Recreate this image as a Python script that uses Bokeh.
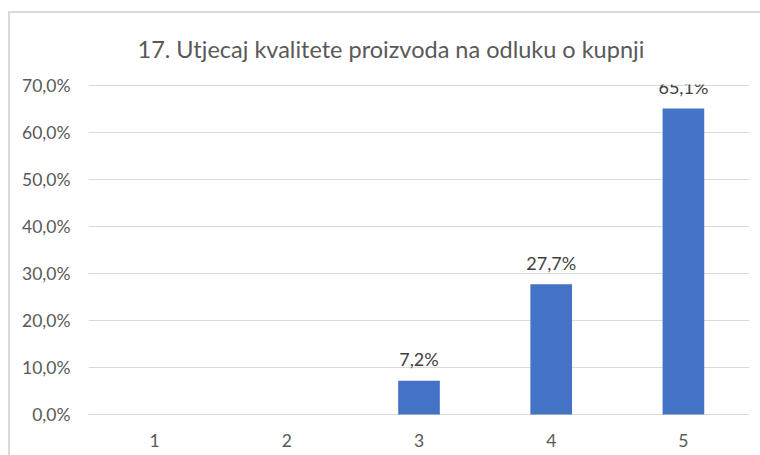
from bokeh.plotting import figure
from bokeh.models import ColumnDataSource, LabelSet, Title, Range1d, CustomJSTickFormatter, FixedTicker
from bokeh.core.properties import value
from bokeh.embed import file_html
from bokeh.resources import INLINE

categories = ["1", "2", "3", "4", "5"]
values = [0.0, 0.0, 0.072, 0.277, 0.651]
value_labels = ["", "", "7,2%", "27,7%", "65,1%"]
y_ticks = [0.0, 0.1, 0.2, 0.3, 0.4, 0.5, 0.6, 0.7]
title_text = "17. Utjecaj kvalitete proizvoda na odluku o kupnji"

FONT = "Lato"
GRAY = "#595959"

src = ColumnDataSource(dict(cat=categories, val=values, lab=value_labels))

p = figure(
    x_range=categories,
    y_range=Range1d(-0.00213, 0.70213),
    frame_width=661, frame_height=331,
    min_border_left=78, min_border_right=11,
    min_border_top=71, min_border_bottom=40,
    output_backend="svg", toolbar_location=None,
    outline_line_color=None, outline_line_alpha=0,
    border_fill_color="white", background_fill_color="white",
)
p.styles = {"margin-left": "8px", "margin-top": "11px",
            "border-left": "2px solid #D9D9D9", "border-top": "2px solid #D9D9D9",
            "border-right": "none", "border-bottom": "none",
            "width": "750px", "overflow": "hidden", "box-sizing": "content-box"}

t = Title(text=title_text, align="left", offset=49, vertical_align="top",
          text_font=FONT, text_font_size="23.5px",
          text_color=GRAY, text_font_style="normal", standoff=40)
p.add_layout(t, "above")

p.vbar(x="cat", top="val", width=0.315, source=src, fill_color="#4472C4", line_color=None)

labels = LabelSet(x="cat", y="val", text="lab", source=src, text_align="center",
                  text_baseline="alphabetic", y_offset=14.5, text_font=value(FONT),
                  text_font_size=value("18px"), text_color=value("#404040"))
p.add_layout(labels)

p.yaxis.ticker = FixedTicker(ticks=y_ticks)
p.yaxis.formatter = CustomJSTickFormatter(code="return (tick*100).toFixed(1).replace('.', ',') + '%';")
for ax in (p.xaxis, p.yaxis):
    ax.axis_line_color = None
    ax.major_tick_line_color = None
    ax.minor_tick_line_color = None
    ax.major_tick_out = 0
    ax.major_tick_in = 0
    ax.major_label_text_font = FONT
    ax.major_label_text_font_size = "17.5px"
    ax.major_label_text_color = GRAY
p.yaxis.major_label_standoff = 18
p.xaxis.major_label_standoff = 18

p.xgrid.grid_line_color = None
p.ygrid.grid_line_color = "#D9D9D9"
p.ygrid.grid_line_width = 1

open("out.html", "w").write(file_html(p, INLINE))
